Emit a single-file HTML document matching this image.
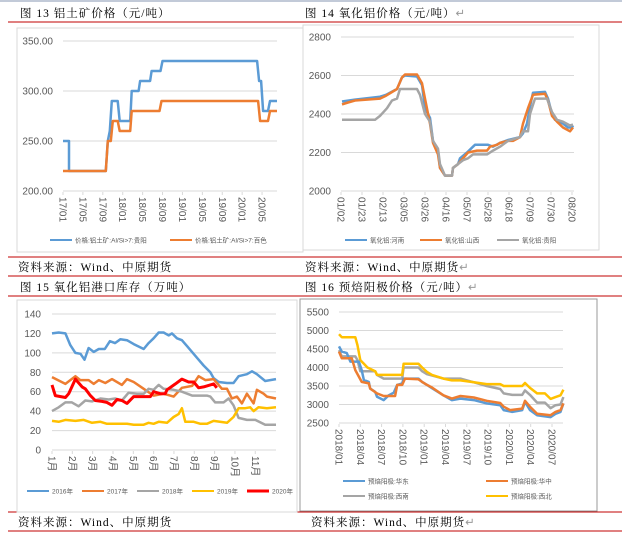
<!DOCTYPE html>
<html><head><meta charset="utf-8"><style>
html,body{margin:0;padding:0;background:#fff;}
svg{display:block;font-family:"Liberation Sans","Noto Sans CJK SC",sans-serif;}
.t{font-family:"Liberation Serif","Noto Serif CJK SC",serif;font-size:11.5px;fill:#000;letter-spacing:1px;}
.rt{fill:#999;}
.ax{font-size:10px;fill:#595959;}
.lg{font-size:6.5px;fill:#595959;}
</style></head><body>
<svg id="s" width="622" height="541" viewBox="0 0 622 541">
<line x1="0" y1="1" x2="622" y2="1" stroke="#8496b0" stroke-width="1"/>
<line x1="8" y1="22" x2="622" y2="22" stroke="#c00000"/>
<line x1="8" y1="257" x2="622" y2="257" stroke="#c00000"/>
<line x1="8" y1="276" x2="622" y2="276" stroke="#c00000"/>
<line x1="8" y1="296" x2="622" y2="296" stroke="#c00000"/>
<line x1="8" y1="512" x2="622" y2="512" stroke="#c00000"/>
<line x1="8" y1="531" x2="622" y2="531" stroke="#c00000"/>
<text class="t" x="20" y="17">图 13 铝土矿价格（元/吨）</text>
<text class="t" x="305" y="17">图 14 氧化铝价格（元/吨）<tspan class="rt">↵</tspan></text>
<text class="t" x="18" y="271">资料来源：Wind、中原期货</text>
<text class="t" x="305" y="271">资料来源：Wind、中原期货<tspan class="rt">↵</tspan></text>
<text class="t" x="20" y="291">图 15 氧化铝港口库存（万吨）</text>
<text class="t" x="305" y="291">图 16 预焙阳极价格（元/吨）<tspan class="rt">↵</tspan></text>
<text class="t" x="18" y="526">资料来源：Wind、中原期货</text>
<text class="t" x="311" y="526">资料来源：Wind、中原期货<tspan class="rt">↵</tspan></text>
<rect x="17" y="28" width="286" height="224" fill="none" stroke="#d9d9d9"/>
<rect x="303" y="25" width="296" height="225" fill="none" stroke="#d9d9d9"/>
<rect x="17" y="300" width="280" height="212" fill="none" stroke="#d9d9d9"/>
<rect x="300" y="299" width="297" height="212" fill="none" stroke="#999"/>
</svg>
<script>
// ---------- Chart 13 (month index from 2017/01) ----------
const c1Ticks = [200, 250, 300, 350];
const c1XLabels = ["17/01","17/05","17/09","18/01","18/05","18/09","19/01","19/05","19/09","20/01","20/05"];
const c1GuiyangX = [0,1.2,1.2,8.6,9,9.4,9.8,11,11.4,13.5,13.8,15.2,15.5,17.5,17.8,19.6,20,39,39.4,39.8,40.2,41.2,41.6,43];
const c1GuiyangY = [250,250,220,220,250,260,290,290,270,270,300,300,310,310,320,320,330,330,310,310,280,280,290,290];
const c1BaiseX = [0,8.6,9,9.6,10,11,11.4,13.5,13.8,19.4,19.8,39.2,39.6,41.2,41.6,43];
const c1BaiseY = [220,220,250,250,270,270,260,260,280,280,290,290,270,270,280,280];
// ---------- Chart 14 (day index from 01/02) ----------
const c2Ticks = [2000, 2200, 2400, 2600, 2800];
const c2XLabels = ["01/02","01/23","02/13","03/05","03/26","04/16","05/07","05/28","06/18","07/09","07/30","08/20"];
const c2HenanX = [1,14,39,45,56,61,64,76,81,84,89,92,97,99,104,111,112,117,119,126,132,134,147,152,159,167,179,182,186,189,192,204,207,211,214,222,227,231,232];
const c2HenanY = [2465,2475,2490,2500,2530,2590,2600,2595,2550,2430,2380,2260,2210,2120,2080,2080,2120,2140,2170,2200,2230,2240,2240,2230,2250,2265,2280,2300,2350,2440,2510,2515,2480,2400,2370,2350,2330,2330,2340];
const c2ShanxiX = [1,7,14,39,45,56,61,64,76,81,84,89,92,97,99,104,111,112,117,122,127,136,146,149,156,159,167,172,179,182,187,192,204,207,211,216,222,229,232];
const c2ShanxiY = [2450,2460,2470,2480,2495,2530,2590,2605,2605,2560,2480,2350,2250,2190,2120,2080,2080,2120,2140,2170,2200,2210,2210,2230,2240,2250,2260,2260,2280,2350,2430,2500,2505,2470,2390,2360,2330,2310,2330];
const c2GuiyangX = [1,34,39,46,51,56,59,76,79,84,89,92,97,99,104,111,112,122,127,132,146,152,159,167,179,182,187,189,194,206,211,216,222,229,232];
const c2GuiyangY = [2370,2370,2390,2430,2470,2480,2530,2530,2500,2400,2360,2260,2220,2140,2080,2080,2120,2160,2170,2190,2190,2210,2230,2260,2280,2310,2310,2400,2480,2480,2410,2370,2360,2340,2345];
// ---------- Chart 15 (month position, 0 = Jan) ----------
const c3Ticks = [0,20,40,60,80,100,120,140];
const c3XLabels = ["1月","2月","3月","4月","5月","6月","7月","8月","9月","10月","11月"];
const c3Names = ["2016年","2017年","2018年","2019年","2020年"];
const c3X2016 = [0,0.33,0.66,0.9,1.15,1.4,1.6,1.8,2.05,2.3,2.6,2.85,3.1,3.36,3.69,4.02,4.51,4.75,5.0,5.25,5.49,5.74,5.9,6.15,6.39,6.64,7.13,7.46,7.79,7.95,8.2,8.61,8.93,9.18,9.59,9.84,10.08,10.49,11.02];
const c3Y2016 = [120,121,120,108,100,99,93,105,101,104,104,112,110,114,113,109,104,110,115,121,121,118,120,115,113,107,95,87,80,74,70,69,69,76,78,81,78,71,73];
const c3X2017 = [0,0.66,1.15,1.39,1.8,2.05,2.3,2.62,2.95,3.44,3.69,4.02,4.51,5.0,5.49,5.98,6.39,6.89,7.21,7.54,7.95,8.36,8.61,8.85,9.1,9.34,9.59,9.92,10.08,10.41,10.57,11.02];
const c3Y2017 = [75,68,76,72,72,68,72,69,73,67,73,70,63,56,58,55,64,66,76,72,73,63,63,53,55,48,58,48,62,58,55,53];
const c3X2018 = [0,0.33,0.66,0.98,1.31,1.64,1.97,2.38,2.79,3.11,3.44,3.77,4.18,4.51,4.75,5.0,5.25,5.49,5.98,6.39,6.89,7.62,7.79,8.03,8.44,8.69,8.93,9.18,9.59,10.0,10.49,11.02];
const c3Y2018 = [40,44,49,49,45,51,50,53,52,53,51,59,58,58,63,62,67,63,62,60,56,56,55,49,49,53,46,33,31,31,26,26];
const c3X2019 = [0,0.33,0.66,1.15,1.56,1.97,2.38,2.7,3.2,3.69,4.02,4.51,4.75,5.0,5.25,5.66,5.98,6.23,6.39,6.56,6.97,7.3,7.62,7.95,8.61,8.93,9.18,9.51,9.75,9.92,10.16,10.57,11.02];
const c3Y2019 = [30,29,31,30,31,28,29,27,27,27,26,26,28,27,29,28,34,37,43,29,29,27,27,30,28,34,43,43,44,40,44,43,44];
const c3X2020 = [0,0.16,0.66,0.82,1.15,1.48,1.64,1.89,2.13,2.46,2.7,2.95,3.2,3.44,3.69,4.02,4.51,4.84,5.0,5.33,5.57,5.66,6.07,6.39,6.72,6.97,7.21,7.46,7.95,8.11];
const c3Y2020 = [67,56,54,58,73,65,63,56,51,50,49,46,52,51,48,55,55,55,60,58,58,62,68,73,70,70,64,65,68,64];
// ---------- Chart 16 (month index from 2018/01) ----------
const c4Ticks = [2500,3000,3500,4000,4500,5000,5500];
const c4XLabels = ["2018/01","2018/04","2018/07","2018/10","2019/01","2019/04","2019/07","2019/10","2020/01","2020/04","2020/07"];
const c4HuadongX = [0,0.4,1.1,1.6,2.8,3.2,3.5,4.2,4.4,5.1,5.35,6.3,7,7.7,8.2,8.9,9.1,11.2,11.7,12.4,13.1,14.7,15.9,17.1,19,20.8,22.7,23.2,24.4,25.8,26.2,26.9,27.9,29.8,30.5,31.2,31.6];
const c4HuadongY = [4570,4430,4390,4160,4160,3930,3660,3610,3430,3340,3210,3120,3250,3320,3530,3570,3700,3700,3610,3530,3440,3250,3120,3160,3120,3030,2980,2850,2800,2850,3070,2850,2710,2660,2750,2800,3030];
const c4HuazhongX = [0,0.4,1.8,2.3,3.2,4.2,4.4,5.35,6.3,7.9,8.2,8.9,9.3,11.2,11.7,12.4,13.1,14.7,15.9,17.1,19,20.8,22.7,23.2,24.1,25.8,26.2,26.9,27.9,29.8,30.5,31.2,31.6];
const c4HuazhongY = [4430,4250,4250,3930,3610,3570,3430,3300,3230,3230,3530,3530,3700,3680,3610,3530,3460,3250,3160,3230,3190,3100,3040,2940,2850,2890,3100,2940,2750,2710,2800,2850,3030];
const c4XinanX = [0,0.4,2.3,2.6,3.0,5.1,5.35,6.3,8.9,9.1,11.2,11.7,12.4,14.7,17.1,19,20.8,22.7,23.2,24.4,25.8,26.2,26.9,27.9,29.0,29.8,30.5,31.2,31.6];
const c4XinanY = [4470,4300,4300,4200,3900,3900,3800,3700,3700,4000,4000,3900,3820,3700,3700,3600,3500,3420,3300,3260,3260,3380,3260,3050,3050,2900,2980,3000,3200];
const c4XibeiX = [0,0.4,2.3,2.6,3.0,3.5,4.0,5.1,5.35,8.9,9.1,11.2,11.7,12.4,13.1,14.7,15.9,17.1,19,20.8,22.7,23.2,25.8,26.2,26.9,27.9,29.0,29.8,30.5,31.2,31.6];
const c4XibeiY = [4900,4820,4820,4600,4200,4100,4000,3900,3800,3800,4100,4100,4000,3880,3800,3700,3650,3650,3600,3550,3550,3500,3500,3580,3450,3300,3300,3150,3200,3250,3400];

const NS = "http://www.w3.org/2000/svg";
const svg = document.getElementById("s");
function mk(tag, attrs, txt) {
  const e = document.createElementNS(NS, tag);
  for (const k in attrs) e.setAttribute(k, attrs[k]);
  if (txt !== undefined) e.textContent = txt;
  svg.appendChild(e);
  return e;
}
function lin(d0, d1, r0, r1) { return v => r0 + (v - d0) * (r1 - r0) / (d1 - d0); }
function pathD(xs, ys, sx, sy) {
  return xs.map((x, i) => (i ? "L" : "M") + sx(x).toFixed(1) + "," + sy(ys[i]).toFixed(1)).join("");
}
function grid(ticks, sy, x0, x1, lx, fmt) {
  ticks.forEach(t => {
    const g = mk("line", {x1: x0, x2: x1, y1: sy(t), y2: sy(t), stroke: "#d9d9d9", "stroke-width": 1});
    
    
    const l = mk("text", {x: lx, y: sy(t) + 3.5, "text-anchor": "end", class: "ax"}, fmt(t));
    
    
  });
}
function xlabels(labels, posFn, y, fs) {
  labels.forEach((lab, i) => {
    const x = posFn(i);
    const tk = mk("line", {x1: x, x2: x, y1: y - 4, y2: y - 1, stroke: "#d9d9d9"});
    
    
    const t = mk("text", {x: 0, y: 0, class: "ax", "font-size": fs, transform: "translate(" + (x - 3.5) + "," + (y + 1) + ") rotate(90)"}, lab);
    
    
  });
}
function series(xs, ys, sx, sy, color, w) {
  const p = mk("path", {d: pathD(xs, ys, sx, sy), fill: "none", stroke: color, "stroke-width": w, "stroke-linejoin": "round"});
  
  
}
function legend(x, y, color, label, w) {
  const l = mk("line", {x1: x, x2: x + 22, y1: y, y2: y, stroke: color, "stroke-width": w});
  
  
  const t = mk("text", {x: x + 25, y: y + 2.3, class: "lg"}, label);
  
  
}

// Chart 13
{
  const sx = lin(0, 43, 63, 277), sy = lin(200, 350, 191, 41);
  grid(c1Ticks, sy, 63, 277, 53, t => t.toFixed(2));
  const ax = mk("line", {x1: 63, x2: 277, y1: 191, y2: 191, stroke: "#d9d9d9"});
  
  
  xlabels(c1XLabels, i => sx(i * 4), 196, 10);
  series(c1GuiyangX, c1GuiyangY, sx, sy, "#5B9BD5", 2.5);
  series(c1BaiseX, c1BaiseY, sx, sy, "#ED7D31", 2.5);
  legend(50, 240, "#5B9BD5", "价格:铝土矿:Al/Si>7:贵阳", 2);
  legend(170, 240, "#ED7D31", "价格:铝土矿:Al/Si>7:百色", 2);
}
// Chart 14
{
  const sx = lin(0, 230.7, 341, 571.7), sy = lin(2000, 2800, 191, 37);
  grid(c2Ticks, sy, 341, 574, 331, t => String(t));
  const ax = mk("line", {x1: 341, x2: 574, y1: 191, y2: 191, stroke: "#d9d9d9"});
  
  
  xlabels(c2XLabels, i => sx(i * 21), 196, 10);
  series(c2HenanX, c2HenanY, sx, sy, "#5B9BD5", 2.5);
  series(c2ShanxiX, c2ShanxiY, sx, sy, "#ED7D31", 2.5);
  series(c2GuiyangX, c2GuiyangY, sx, sy, "#A5A5A5", 2.5);
  legend(345, 240, "#5B9BD5", "氧化铝:河南", 2);
  legend(420, 240, "#ED7D31", "氧化铝:山西", 2);
  legend(497, 240, "#A5A5A5", "氧化铝:贵阳", 2);
}
// Chart 15
{
  const sx = lin(0, 11.02, 52, 276), sy = lin(0, 140, 450, 314);
  grid(c3Ticks, sy, 52, 276, 41, t => String(t));
  const ax = mk("line", {x1: 52, x2: 276, y1: 450, y2: 450, stroke: "#d9d9d9"});
  
  
  xlabels(c3XLabels, i => sx(i), 455, 10);
  series(c3X2016, c3Y2016, sx, sy, "#5B9BD5", 2.5);
  series(c3X2017, c3Y2017, sx, sy, "#ED7D31", 2.5);
  series(c3X2018, c3Y2018, sx, sy, "#A5A5A5", 2.5);
  series(c3X2019, c3Y2019, sx, sy, "#FFC000", 2.5);
  series(c3X2020, c3Y2020, sx, sy, "#FF0000", 3);
  const cols = ["#5B9BD5","#ED7D31","#A5A5A5","#FFC000","#FF0000"];
  c3Names.forEach((n, i) => legend(27 + i * 55, 491, cols[i], n, i === 4 ? 3 : 2));
}
// Chart 16
{
  const sx = lin(0, 30, 339, 552), sy = lin(2500, 5500, 423, 312);
  grid(c4Ticks, sy, 339, 563, 329, t => String(t));
  const ax = mk("line", {x1: 339, x2: 563, y1: 423, y2: 423, stroke: "#d9d9d9"});
  
  
  xlabels(c4XLabels, i => sx(i * 3), 428, 10);
  series(c4XinanX, c4XinanY, sx, sy, "#A5A5A5", 2.5);
  series(c4XibeiX, c4XibeiY, sx, sy, "#FFC000", 2.5);
  series(c4HuadongX, c4HuadongY, sx, sy, "#5B9BD5", 2.5);
  series(c4HuazhongX, c4HuazhongY, sx, sy, "#ED7D31", 2.5);
  legend(343, 481, "#5B9BD5", "预焙阳极:华东", 2);
  legend(486, 481, "#ED7D31", "预焙阳极:华中", 2);
  legend(343, 496, "#A5A5A5", "预焙阳极:西南", 2);
  legend(486, 496, "#FFC000", "预焙阳极:西北", 2);
}
</script>
</body></html>
